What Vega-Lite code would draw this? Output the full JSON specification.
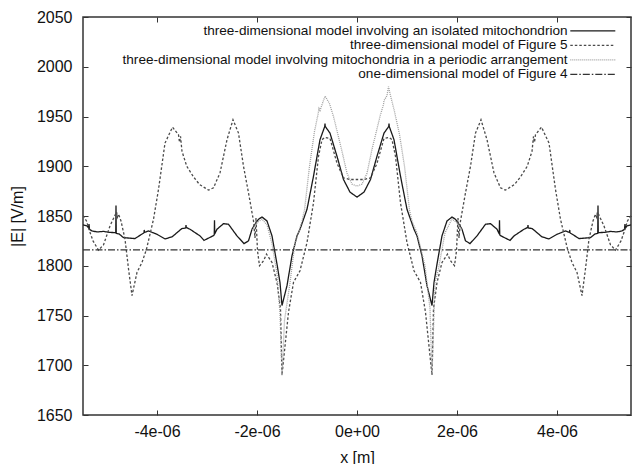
{
"$schema":"https://vega.github.io/schema/vega-lite/v6.json",
"width":548,"height":398,
"autosize":{"type":"none"},
"padding":{"left":83,"top":17,"right":2,"bottom":49},
"config":{
"font":"Liberation Sans",
"view":{"stroke":"#333","strokeWidth":1.5},
"axis":{"grid":false,"domain":false,"tickColor":"#333","tickWidth":1,"labelFont":"Liberation Sans","labelFontSize":16,"labelColor":"#111","titleFont":"Liberation Sans","titleFontSize":16,"titleFontWeight":"normal","titleColor":"#111"}
},
"datasets":{
"names":[
{"k":1,"series":"three-dimensional model involving an isolated mitochondrion"},
{"k":2,"series":"three-dimensional model of Figure 5"},
{"k":3,"series":"three-dimensional model involving mitochondria in a periodic arrangement"},
{"k":4,"series":"one-dimensional model of Figure 4"}
],
"pts":[
{"k":1,"x":-5.48e-6,"y":1841},{"k":1,"x":-5.40e-6,"y":1840},{"k":1,"x":-5.37e-6,"y":1838},{"k":1,"x":-5.36e-6,"y":1842},{"k":1,"x":-5.35e-6,"y":1836.5},{"k":1,"x":-5.30e-6,"y":1835},{"k":1,"x":-5.20e-6,"y":1834},{"k":1,"x":-5.07e-6,"y":1834.5},{"k":1,"x":-4.95e-6,"y":1833.5},{"k":1,"x":-4.825e-6,"y":1833.3},{"k":1,"x":-4.82e-6,"y":1860.5},{"k":1,"x":-4.815e-6,"y":1832.5},{"k":1,"x":-4.76e-6,"y":1832},{"k":1,"x":-4.67e-6,"y":1828.3},{"k":1,"x":-4.44e-6,"y":1827.3},{"k":1,"x":-4.305e-6,"y":1831.7},{"k":1,"x":-4.26e-6,"y":1833},{"k":1,"x":-4.255e-6,"y":1836},{"k":1,"x":-4.25e-6,"y":1833.5},{"k":1,"x":-4.17e-6,"y":1835},{"k":1,"x":-4.005e-6,"y":1831.7},{"k":1,"x":-3.84e-6,"y":1827},{"k":1,"x":-3.70e-6,"y":1829},{"k":1,"x":-3.505e-6,"y":1837.3},{"k":1,"x":-3.425e-6,"y":1838},{"k":1,"x":-3.42e-6,"y":1841},{"k":1,"x":-3.415e-6,"y":1838.5},{"k":1,"x":-3.34e-6,"y":1836.7},{"k":1,"x":-3.14e-6,"y":1830},{"k":1,"x":-3.06e-6,"y":1825.5},{"k":1,"x":-2.88e-6,"y":1830},{"k":1,"x":-2.855e-6,"y":1831},{"k":1,"x":-2.85e-6,"y":1845.7},{"k":1,"x":-2.845e-6,"y":1832},{"k":1,"x":-2.80e-6,"y":1836.7},{"k":1,"x":-2.67e-6,"y":1842.3},{"k":1,"x":-2.57e-6,"y":1841.7},{"k":1,"x":-2.40e-6,"y":1830},{"k":1,"x":-2.26e-6,"y":1822.3},{"k":1,"x":-2.17e-6,"y":1825},{"k":1,"x":-2.10e-6,"y":1836.7},{"k":1,"x":-2.04e-6,"y":1841.7},{"k":1,"x":-1.97e-6,"y":1846.7},{"k":1,"x":-1.90e-6,"y":1849},{"k":1,"x":-1.80e-6,"y":1845},{"k":1,"x":-1.70e-6,"y":1830},{"k":1,"x":-1.60e-6,"y":1801.7},{"k":1,"x":-1.54e-6,"y":1783},{"k":1,"x":-1.50e-6,"y":1760},{"k":1,"x":-1.40e-6,"y":1780},{"k":1,"x":-1.30e-6,"y":1810},{"k":1,"x":-1.20e-6,"y":1830},{"k":1,"x":-1.14e-6,"y":1836.7},{"k":1,"x":-1.00e-6,"y":1856.7},{"k":1,"x":-0.87e-6,"y":1890},{"k":1,"x":-0.74e-6,"y":1926.7},{"k":1,"x":-0.645e-6,"y":1940},{"k":1,"x":-0.64e-6,"y":1943},{"k":1,"x":-0.635e-6,"y":1940},{"k":1,"x":-0.54e-6,"y":1933.3},{"k":1,"x":-0.40e-6,"y":1910},{"k":1,"x":-0.27e-6,"y":1886.7},{"k":1,"x":-0.14e-6,"y":1874},{"k":1,"x":0,"y":1869},
{"k":1,"x":0.14e-6,"y":1874},{"k":1,"x":0.27e-6,"y":1886.7},{"k":1,"x":0.40e-6,"y":1910},{"k":1,"x":0.54e-6,"y":1933.3},{"k":1,"x":0.635e-6,"y":1940},{"k":1,"x":0.64e-6,"y":1943},{"k":1,"x":0.645e-6,"y":1940},{"k":1,"x":0.74e-6,"y":1926.7},{"k":1,"x":0.87e-6,"y":1890},{"k":1,"x":1.00e-6,"y":1856.7},{"k":1,"x":1.14e-6,"y":1836.7},{"k":1,"x":1.20e-6,"y":1830},{"k":1,"x":1.30e-6,"y":1810},{"k":1,"x":1.40e-6,"y":1780},{"k":1,"x":1.50e-6,"y":1760},{"k":1,"x":1.54e-6,"y":1783},{"k":1,"x":1.60e-6,"y":1801.7},{"k":1,"x":1.70e-6,"y":1830},{"k":1,"x":1.80e-6,"y":1845},{"k":1,"x":1.90e-6,"y":1849},{"k":1,"x":1.97e-6,"y":1846.7},{"k":1,"x":2.04e-6,"y":1841.7},{"k":1,"x":2.10e-6,"y":1836.7},{"k":1,"x":2.17e-6,"y":1825},{"k":1,"x":2.26e-6,"y":1822.3},{"k":1,"x":2.40e-6,"y":1830},{"k":1,"x":2.57e-6,"y":1841.7},{"k":1,"x":2.67e-6,"y":1842.3},{"k":1,"x":2.80e-6,"y":1836.7},{"k":1,"x":2.845e-6,"y":1832},{"k":1,"x":2.85e-6,"y":1845.7},{"k":1,"x":2.855e-6,"y":1831},{"k":1,"x":2.88e-6,"y":1830},{"k":1,"x":3.06e-6,"y":1825.5},{"k":1,"x":3.14e-6,"y":1830},{"k":1,"x":3.34e-6,"y":1836.7},{"k":1,"x":3.415e-6,"y":1838.5},{"k":1,"x":3.42e-6,"y":1841},{"k":1,"x":3.425e-6,"y":1838},{"k":1,"x":3.505e-6,"y":1837.3},{"k":1,"x":3.70e-6,"y":1829},{"k":1,"x":3.84e-6,"y":1827},{"k":1,"x":4.005e-6,"y":1831.7},{"k":1,"x":4.17e-6,"y":1835},{"k":1,"x":4.25e-6,"y":1833.5},{"k":1,"x":4.255e-6,"y":1836},{"k":1,"x":4.26e-6,"y":1833},{"k":1,"x":4.305e-6,"y":1831.7},{"k":1,"x":4.44e-6,"y":1827.3},{"k":1,"x":4.67e-6,"y":1828.3},{"k":1,"x":4.76e-6,"y":1832},{"k":1,"x":4.815e-6,"y":1832.5},{"k":1,"x":4.82e-6,"y":1860.5},{"k":1,"x":4.825e-6,"y":1833.3},{"k":1,"x":4.95e-6,"y":1833.5},{"k":1,"x":5.07e-6,"y":1834.5},{"k":1,"x":5.20e-6,"y":1834},{"k":1,"x":5.30e-6,"y":1835},{"k":1,"x":5.35e-6,"y":1836.5},{"k":1,"x":5.36e-6,"y":1842},{"k":1,"x":5.37e-6,"y":1838},{"k":1,"x":5.40e-6,"y":1840},{"k":1,"x":5.48e-6,"y":1841},
{"k":2,"x":-5.48e-6,"y":1850.5},{"k":2,"x":-5.41e-6,"y":1845},{"k":2,"x":-5.35e-6,"y":1835},{"k":2,"x":-5.28e-6,"y":1825},{"k":2,"x":-5.17e-6,"y":1815.7},{"k":2,"x":-5.07e-6,"y":1821},{"k":2,"x":-4.94e-6,"y":1840},{"k":2,"x":-4.81e-6,"y":1854},{"k":2,"x":-4.79e-6,"y":1849},{"k":2,"x":-4.77e-6,"y":1852},{"k":2,"x":-4.72e-6,"y":1845},{"k":2,"x":-4.64e-6,"y":1826.7},{"k":2,"x":-4.57e-6,"y":1797},{"k":2,"x":-4.50e-6,"y":1770},{"k":2,"x":-4.40e-6,"y":1793.3},{"k":2,"x":-4.30e-6,"y":1803.3},{"k":2,"x":-4.21e-6,"y":1816.7},{"k":2,"x":-4.07e-6,"y":1846.7},{"k":2,"x":-3.97e-6,"y":1876.7},{"k":2,"x":-3.84e-6,"y":1923.3},{"k":2,"x":-3.69e-6,"y":1939.3},{"k":2,"x":-3.57e-6,"y":1931.7},{"k":2,"x":-3.55e-6,"y":1924},{"k":2,"x":-3.53e-6,"y":1930},{"k":2,"x":-3.50e-6,"y":1915},{"k":2,"x":-3.405e-6,"y":1900},{"k":2,"x":-3.27e-6,"y":1889.3},{"k":2,"x":-3.15e-6,"y":1881.7},{"k":2,"x":-2.97e-6,"y":1876},{"k":2,"x":-2.87e-6,"y":1878.3},{"k":2,"x":-2.74e-6,"y":1893.3},{"k":2,"x":-2.60e-6,"y":1926.7},{"k":2,"x":-2.48e-6,"y":1946.7},{"k":2,"x":-2.37e-6,"y":1933.3},{"k":2,"x":-2.27e-6,"y":1900},{"k":2,"x":-2.17e-6,"y":1873.3},{"k":2,"x":-2.07e-6,"y":1845},{"k":2,"x":-2.04e-6,"y":1828},{"k":2,"x":-2.02e-6,"y":1848},{"k":2,"x":-1.99e-6,"y":1815},{"k":2,"x":-1.95e-6,"y":1800},{"k":2,"x":-1.87e-6,"y":1805},{"k":2,"x":-1.81e-6,"y":1811.7},{"k":2,"x":-1.70e-6,"y":1803.3},{"k":2,"x":-1.60e-6,"y":1783},{"k":2,"x":-1.53e-6,"y":1756.7},{"k":2,"x":-1.50e-6,"y":1690},{"k":2,"x":-1.37e-6,"y":1753.3},{"k":2,"x":-1.27e-6,"y":1783.3},{"k":2,"x":-1.14e-6,"y":1795},{"k":2,"x":-1.00e-6,"y":1823.3},{"k":2,"x":-0.87e-6,"y":1863.3},{"k":2,"x":-0.77e-6,"y":1910},{"k":2,"x":-0.70e-6,"y":1926.7},{"k":2,"x":-0.64e-6,"y":1929},{"k":2,"x":-0.54e-6,"y":1928},{"k":2,"x":-0.40e-6,"y":1903},{"k":2,"x":-0.27e-6,"y":1888.3},{"k":2,"x":-0.14e-6,"y":1886.7},{"k":2,"x":0,"y":1886.7},
{"k":2,"x":0.14e-6,"y":1886.7},{"k":2,"x":0.27e-6,"y":1888.3},{"k":2,"x":0.40e-6,"y":1903},{"k":2,"x":0.54e-6,"y":1928},{"k":2,"x":0.64e-6,"y":1929},{"k":2,"x":0.70e-6,"y":1926.7},{"k":2,"x":0.77e-6,"y":1910},{"k":2,"x":0.87e-6,"y":1863.3},{"k":2,"x":1.00e-6,"y":1823.3},{"k":2,"x":1.14e-6,"y":1795},{"k":2,"x":1.27e-6,"y":1783.3},{"k":2,"x":1.37e-6,"y":1753.3},{"k":2,"x":1.50e-6,"y":1690},{"k":2,"x":1.53e-6,"y":1756.7},{"k":2,"x":1.60e-6,"y":1783},{"k":2,"x":1.70e-6,"y":1803.3},{"k":2,"x":1.81e-6,"y":1811.7},{"k":2,"x":1.87e-6,"y":1805},{"k":2,"x":1.95e-6,"y":1800},{"k":2,"x":1.99e-6,"y":1815},{"k":2,"x":2.02e-6,"y":1848},{"k":2,"x":2.04e-6,"y":1828},{"k":2,"x":2.07e-6,"y":1845},{"k":2,"x":2.17e-6,"y":1873.3},{"k":2,"x":2.27e-6,"y":1900},{"k":2,"x":2.37e-6,"y":1933.3},{"k":2,"x":2.48e-6,"y":1946.7},{"k":2,"x":2.60e-6,"y":1926.7},{"k":2,"x":2.74e-6,"y":1893.3},{"k":2,"x":2.87e-6,"y":1878.3},{"k":2,"x":2.97e-6,"y":1876},{"k":2,"x":3.15e-6,"y":1881.7},{"k":2,"x":3.27e-6,"y":1889.3},{"k":2,"x":3.405e-6,"y":1900},{"k":2,"x":3.50e-6,"y":1915},{"k":2,"x":3.53e-6,"y":1930},{"k":2,"x":3.55e-6,"y":1924},{"k":2,"x":3.57e-6,"y":1931.7},{"k":2,"x":3.69e-6,"y":1939.3},{"k":2,"x":3.84e-6,"y":1923.3},{"k":2,"x":3.97e-6,"y":1876.7},{"k":2,"x":4.07e-6,"y":1846.7},{"k":2,"x":4.21e-6,"y":1816.7},{"k":2,"x":4.30e-6,"y":1803.3},{"k":2,"x":4.40e-6,"y":1793.3},{"k":2,"x":4.50e-6,"y":1770},{"k":2,"x":4.57e-6,"y":1797},{"k":2,"x":4.64e-6,"y":1826.7},{"k":2,"x":4.72e-6,"y":1845},{"k":2,"x":4.77e-6,"y":1852},{"k":2,"x":4.79e-6,"y":1849},{"k":2,"x":4.81e-6,"y":1854},{"k":2,"x":4.94e-6,"y":1840},{"k":2,"x":5.07e-6,"y":1821},{"k":2,"x":5.17e-6,"y":1815.7},{"k":2,"x":5.28e-6,"y":1825},{"k":2,"x":5.35e-6,"y":1835},{"k":2,"x":5.41e-6,"y":1845},{"k":2,"x":5.48e-6,"y":1850.5},
{"k":3,"x":-2.10e-6,"y":1836},{"k":3,"x":-2.00e-6,"y":1843},{"k":3,"x":-1.90e-6,"y":1847},{"k":3,"x":-1.80e-6,"y":1841},{"k":3,"x":-1.70e-6,"y":1822},{"k":3,"x":-1.60e-6,"y":1792},{"k":3,"x":-1.54e-6,"y":1752},{"k":3,"x":-1.50e-6,"y":1690},{"k":3,"x":-1.45e-6,"y":1745},{"k":3,"x":-1.34e-6,"y":1783},{"k":3,"x":-1.24e-6,"y":1823},{"k":3,"x":-1.17e-6,"y":1833},{"k":3,"x":-1.10e-6,"y":1845},{"k":3,"x":-1.05e-6,"y":1856},{"k":3,"x":-0.95e-6,"y":1900},{"k":3,"x":-0.85e-6,"y":1935},{"k":3,"x":-0.78e-6,"y":1952},{"k":3,"x":-0.76e-6,"y":1958},{"k":3,"x":-0.74e-6,"y":1956},{"k":3,"x":-0.64e-6,"y":1970.5},{"k":3,"x":-0.55e-6,"y":1963},{"k":3,"x":-0.47e-6,"y":1950},{"k":3,"x":-0.30e-6,"y":1915},{"k":3,"x":-0.20e-6,"y":1893},{"k":3,"x":-0.10e-6,"y":1882},{"k":3,"x":0,"y":1880},{"k":3,"x":0.10e-6,"y":1882},{"k":3,"x":0.20e-6,"y":1893},{"k":3,"x":0.30e-6,"y":1917},{"k":3,"x":0.47e-6,"y":1952},{"k":3,"x":0.53e-6,"y":1962},{"k":3,"x":0.54e-6,"y":1966},{"k":3,"x":0.60e-6,"y":1971},{"k":3,"x":0.63e-6,"y":1980},{"k":3,"x":0.66e-6,"y":1973},{"k":3,"x":0.75e-6,"y":1955},{"k":3,"x":0.85e-6,"y":1932},{"k":3,"x":0.95e-6,"y":1900},{"k":3,"x":1.05e-6,"y":1856},{"k":3,"x":1.10e-6,"y":1845},{"k":3,"x":1.20e-6,"y":1833},{"k":3,"x":1.36e-6,"y":1800},{"k":3,"x":1.46e-6,"y":1757},{"k":3,"x":1.50e-6,"y":1690},{"k":3,"x":1.56e-6,"y":1783},{"k":3,"x":1.63e-6,"y":1797},{"k":3,"x":1.76e-6,"y":1833},{"k":3,"x":1.90e-6,"y":1847},{"k":3,"x":2.00e-6,"y":1843},{"k":3,"x":2.10e-6,"y":1836},
{"k":4,"x":-5.48e-6,"y":1816},{"k":4,"x":5.48e-6,"y":1816}
]},
"layer":[
{"data":{"name":"pts"},
"transform":[{"lookup":"k","from":{"data":{"name":"names"},"key":"k","fields":["series"]}}],
"mark":{"type":"line","strokeWidth":1.3,"clip":true},
"encoding":{
"x":{"field":"x","type":"quantitative","scale":{"domain":[-5.48e-6,5.48e-6],"nice":false,"zero":false},
 "axis":{"orient":"bottom","values":[-4e-6,-2e-6,0,2e-6,4e-6],"labelExpr":"datum.value==0?'0e+00':((datum.value<0?'-':'')+format(abs(datum.value)*1e6,'d')+'e-06')","tickSize":-5,"labelPadding":13,"title":"x [m]","titleY":47,"titleBaseline":"alphabetic"}},
"y":{"field":"y","type":"quantitative","scale":{"domain":[1650,2050],"nice":false,"zero":false},
 "axis":{"orient":"left","values":[1650,1700,1750,1800,1850,1900,1950,2000,2050],"format":"d","tickSize":-5,"labelPadding":16,"title":"|E| [V/m]","titleX":-61,"titleBaseline":"alphabetic"}},
"color":{"field":"series","type":"nominal",
 "scale":{"domain":["three-dimensional model involving an isolated mitochondrion","three-dimensional model of Figure 5","three-dimensional model involving mitochondria in a periodic arrangement","one-dimensional model of Figure 4"],"range":["#1a1a1a","#4a4a4a","#a0a0a0","#333333"]},
 "legend":{"title":null,"orient":"none","legendX":503,"legendY":7,"labelAlign":"right","labelOffset":-32,"symbolType":"M-4.5,0H4.5","symbolSize":100,"symbolStrokeWidth":1.3,"labelFont":"Liberation Sans","labelFontSize":13.6,"labelColor":"#111","rowPadding":-0.5,"padding":0,"labelLimit":700}},
"strokeDash":{"field":"series","type":"nominal",
 "scale":{"domain":["three-dimensional model involving an isolated mitochondrion","three-dimensional model of Figure 5","three-dimensional model involving mitochondria in a periodic arrangement","one-dimensional model of Figure 4"],"range":[[1,0],[2.5,2],[1,1],[7,2,1.5,2]]},
 "legend":{"title":null,"orient":"none","legendX":503,"legendY":7,"labelAlign":"right","labelOffset":-32,"symbolType":"M-4.5,0H4.5","symbolSize":100,"symbolStrokeWidth":1.3,"labelFont":"Liberation Sans","labelFontSize":13.6,"labelColor":"#111","rowPadding":-0.5,"padding":0,"labelLimit":700}}
}},
{"data":{"name":"pts"},
"mark":{"type":"point","opacity":0},
"encoding":{
"x":{"field":"x","type":"quantitative","axis":{"orient":"top","values":[-4e-6,-2e-6,0,2e-6,4e-6],"labels":false,"tickSize":-5,"title":null}},
"y":{"field":"y","type":"quantitative","axis":{"orient":"right","values":[1650,1700,1750,1800,1850,1900,1950,2000,2050],"labels":false,"tickSize":-5,"title":null}}
}}
],
"resolve":{"axis":{"x":"independent","y":"independent"}}
}
